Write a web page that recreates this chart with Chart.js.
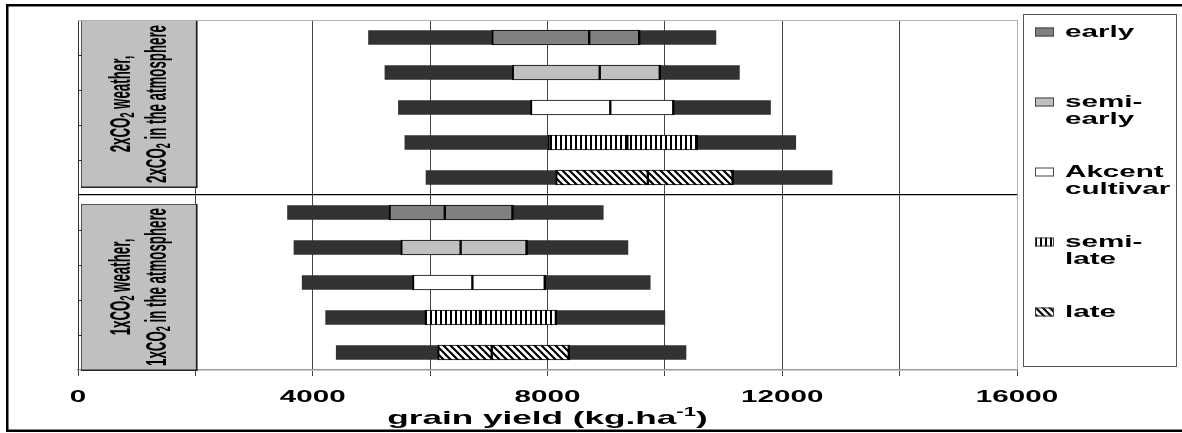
<!DOCTYPE html>
<html>
<head>
<meta charset="utf-8">
<title>Grain yield ranges</title>
<script src="https://cdn.jsdelivr.net/npm/chart.js@4.4.1/dist/chart.umd.min.js"></script>
<style>
  html, body { margin: 0; padding: 0; background: #fff; }
  #wrap { width: 1182px; height: 433px; }
</style>
</head>
<body>
<div id="wrap"><canvas id="yieldChart" width="1182" height="433"></canvas></div>
<script>
// Rows: first five under 2xCO2 conditions, last five under 1xCO2 conditions
const categories = [
  '2x early', '2x semi-early', '2x Akcent cultivar', '2x semi-late', '2x late',
  '1x early', '1x semi-early', '1x Akcent cultivar', '1x semi-late', '1x late'
];
const varieties = ['early', 'semi-early', 'Akcent cultivar', 'semi-late', 'late'];
const rowVariety = [0, 1, 2, 3, 4, 0, 1, 2, 3, 4];

// Grain yield statistics (kg/ha)
const minYield    = [4950, 5230, 5460, 5570, 5930, 3570, 3680, 3820, 4220, 4400];
const q1Yield     = [7050, 7400, 7710, 8010, 8140, 5300, 5500, 5700, 5910, 6130];
const medianYield = [8710, 8890, 9070, 9360, 9710, 6250, 6520, 6720, 6850, 7050];
const q3Yield     = [9580, 9930, 10160, 10560, 11170, 7420, 7660, 7970, 8160, 8380];
const maxYield    = [10870, 11270, 11800, 12230, 12850, 8950, 9370, 9750, 10000, 10360];

const xTickLabels = [0, 4000, 8000, 12000, 16000];
const groupLabels = [
  ['2xCO₂ weather,', '2xCO₂ in the atmosphere'],
  ['1xCO₂ weather,', '1xCO₂ in the atmosphere']
];
const axisTitle = ['grain yield (kg.ha', '-1', ')'];

const FONT = "'Liberation Sans', Arial, sans-serif";
const WIDE = 1.85; // horizontal widening of all lettering

const canvas = document.getElementById('yieldChart');
const ctx = canvas.getContext('2d');

function makePattern(kind) {
  const c = document.createElement('canvas');
  const g = c.getContext('2d');
  if (kind === 'vertical') {
    c.width = 5; c.height = 5;
    g.fillStyle = '#fff'; g.fillRect(0, 0, 5, 5);
    g.fillStyle = '#000'; g.fillRect(0, 0, 2, 5);
  } else {
    const s = 7;
    c.width = s; c.height = s;
    g.fillStyle = '#fff'; g.fillRect(0, 0, s, s);
    g.strokeStyle = '#000'; g.lineWidth = 2.2;
    g.beginPath();
    g.moveTo(-3, -3); g.lineTo(s + 3, s + 3);
    g.moveTo(-3, s - 3); g.lineTo(3, s + 3);
    g.moveTo(s - 3, -3); g.lineTo(s + 3, 3);
    g.stroke();
  }
  return ctx.createPattern(c, 'repeat');
}

const varietyFills = ['#808080', '#c0c0c0', '#ffffff', makePattern('vertical'), makePattern('diagonal')];
const rowFills = rowVariety.map(v => varietyFills[v]);

const rangeData = categories.map((_, i) => [minYield[i], maxYield[i]]);
const lowerBox = categories.map((_, i) => [q1Yield[i], medianYield[i]]);
const upperBox = categories.map((_, i) => [medianYield[i], q3Yield[i]]);

function wideText(g, text, x, y, size, align) {
  g.save();
  g.font = 'bold ' + size + 'px ' + FONT;
  const w = g.measureText(text).width * WIDE;
  const x0 = align === 'center' ? x - w / 2 : x;
  g.translate(x0, y);
  g.scale(WIDE, 1);
  g.textAlign = 'left';
  g.textBaseline = 'alphabetic';
  g.fillStyle = '#000';
  g.fillText(text, 0, 0);
  g.restore();
  return w;
}

// Split a label into runs, with the subscript two rendered smaller
function runs(str) {
  const out = [];
  str.split('₂').forEach((p, i, arr) => {
    if (p) out.push({ t: p, sub: false });
    if (i < arr.length - 1) out.push({ t: '2', sub: true });
  });
  return out;
}

function runWidth(g, list, size) {
  let w = 0;
  list.forEach(r => {
    g.font = 'bold ' + (r.sub ? size * 0.68 : size) + 'px ' + FONT;
    w += g.measureText(r.t).width;
  });
  return w;
}

const frame = {
  id: 'frame',
  beforeDatasetsDraw(chart) {
    const g = chart.ctx;
    const xs = chart.scales.x;
    const ys = chart.scales.y;
    const a = chart.chartArea;
    const split = (ys.getPixelForValue(4) + ys.getPixelForValue(5)) / 2;
    const left = xs.getPixelForValue(0) + 3;
    const right = xs.getPixelForValue(2000) + 2;
    const boxes = [[a.top, split - 7], [split + 9, a.bottom + 1]];
    g.save();
    boxes.forEach(([t, b]) => {
      g.fillStyle = '#c0c0c0';
      g.fillRect(left, t, right - left, b - t);
      g.strokeStyle = '#555';
      g.lineWidth = 1;
      g.strokeRect(left + 0.5, t + 0.5, right - left - 1, b - t - 1);
      g.fillStyle = '#222';
      g.fillRect(right - 1.5, t, 1.5, b - t);
      g.fillRect(left, b - 1.5, right - left, 1.5);
    });
    g.restore();
  },
  afterDraw(chart) {
    const g = chart.ctx;
    const xs = chart.scales.x;
    const ys = chart.scales.y;
    const a = chart.chartArea;
    const split = (ys.getPixelForValue(4) + ys.getPixelForValue(5)) / 2;
    g.save();

    // top edge of the plot area
    g.fillStyle = '#b4b4b4';
    g.fillRect(a.left, a.top, a.right - a.left, 1);

    // small ticks on the category axis
    g.fillStyle = '#333';
    for (let i = 1; i < categories.length; i++) {
      if (i === 5) continue;
      const y = Math.round((ys.getPixelForValue(i - 1) + ys.getPixelForValue(i)) / 2);
      g.fillRect(a.left, y, 4, 1);
    }

    // rotated condition labels inside the grey boxes
    const left = xs.getPixelForValue(0) + 3;
    const centers = [(a.top + split - 7) / 2, (split + 9 + a.bottom) / 2];
    const size = 15.5;
    groupLabels.forEach((lines, gi) => {
      const longest = runWidth(g, runs(lines[1]), size);
      const along = 158 / longest;
      lines.forEach((line, li) => {
        const list = runs(line);
        const w = runWidth(g, list, size);
        g.save();
        g.translate(left + (li === 0 ? 41 : 77), centers[gi]);
        g.scale(WIDE, 1);
        g.rotate(-Math.PI / 2);
        g.scale(along, 1);
        g.fillStyle = '#000';
        g.textBaseline = 'middle';
        g.textAlign = 'left';
        let x = -w / 2;
        list.forEach(r => {
          g.font = 'bold ' + (r.sub ? size * 0.68 : size) + 'px ' + FONT;
          g.fillText(r.t, x, r.sub ? size * 0.22 : 0);
          x += g.measureText(r.t).width;
        });
        g.restore();
      });
    });

    // x tick labels
    xTickLabels.forEach(v => {
      wideText(g, String(v), xs.getPixelForValue(v), a.bottom + 32, 16, 'center');
    });

    // axis title with superscript
    const tSize = 19, sSize = 12;
    g.font = 'bold ' + tSize + 'px ' + FONT;
    const w1 = g.measureText(axisTitle[0]).width * WIDE;
    const w3 = g.measureText(axisTitle[2]).width * WIDE;
    g.font = 'bold ' + sSize + 'px ' + FONT;
    const w2 = g.measureText(axisTitle[1]).width * WIDE;
    let tx = (a.left + a.right) / 2 - (w1 + w2 + w3) / 2;
    const ty = a.bottom + 54;
    tx += wideText(g, axisTitle[0], tx, ty, tSize, 'left');
    tx += wideText(g, axisTitle[1], tx, ty - 8, sSize, 'left');
    wideText(g, axisTitle[2], tx, ty, tSize, 'left');

    // legend panel
    g.strokeStyle = '#555';
    g.lineWidth = 1;
    g.strokeRect(1023.5, 14.5, 153, 352);
    varieties.forEach((name, i) => {
      const base = 37 + i * 70;
      const cut = name.indexOf('-') >= 0 ? name.indexOf('-') + 1 : name.indexOf(' ');
      const lines = cut > 0 ? [name.slice(0, cut).trim(), name.slice(cut).trim()] : [name];
      g.fillStyle = varietyFills[i];
      g.fillRect(1035, base - 9.5, 19, 9);
      g.strokeStyle = '#444';
      g.strokeRect(1035.5, base - 9, 18, 8);
      lines.forEach((ln, k) => wideText(g, ln, 1065, base + k * 16.5, 16, 'left'));
    });

    // outer frame
    g.fillStyle = '#000';
    g.fillRect(6, 4, 1176, 2.5);
    g.fillRect(6, 4, 2.5, 428);
    g.fillRect(6, 429.5, 1176, 2.5);
    g.restore();
  }
};

new Chart(canvas, {
  type: 'bar',
  data: {
    labels: categories,
    datasets: [
      {
        label: 'lower half',
        data: lowerBox,
        backgroundColor: rowFills,
        borderColor: '#000',
        borderWidth: { left: 2, right: 1.5, top: 1, bottom: 1 },
        borderSkipped: false,
        barThickness: 15,
        order: 1
      },
      {
        label: 'upper half',
        data: upperBox,
        backgroundColor: rowFills,
        borderColor: '#000',
        borderWidth: { left: 1.5, right: 2.5, top: 1, bottom: 1 },
        borderSkipped: false,
        barThickness: 15,
        order: 1
      },
      {
        label: 'range',
        data: rangeData,
        backgroundColor: '#323232',
        borderWidth: 0,
        barThickness: 14,
        order: 2
      }
    ]
  },
  options: {
    indexAxis: 'y',
    responsive: false,
    animation: false,
    events: [],
    datasets: { bar: { grouped: false } },
    layout: { padding: { left: 78, top: 20, right: 165, bottom: 0 } },
    plugins: { legend: { display: false }, tooltip: { enabled: false } },
    scales: {
      x: {
        type: 'linear',
        min: 0,
        max: 16000,
        ticks: { stepSize: 2000, display: false },
        grid: {
          color: c => (c.tick && c.tick.value === 16000 ? '#b0b0b0' : '#454545'),
          tickColor: '#454545',
          tickLength: 6,
          lineWidth: 1
        },
        border: { color: '#9a9a9a', width: 1.5 },
        afterFit: s => { s.height = 63; }
      },
      y: {
        type: 'category',
        ticks: { display: false },
        grid: {
          color: c => (c.index === 5 ? '#000' : 'rgba(0,0,0,0)'),
          drawTicks: false,
          lineWidth: 1.2
        },
        border: { color: '#303030', width: 1 },
        afterFit: s => { s.width = 0; }
      }
    }
  },
  plugins: [frame]
});
</script>
</body>
</html>
